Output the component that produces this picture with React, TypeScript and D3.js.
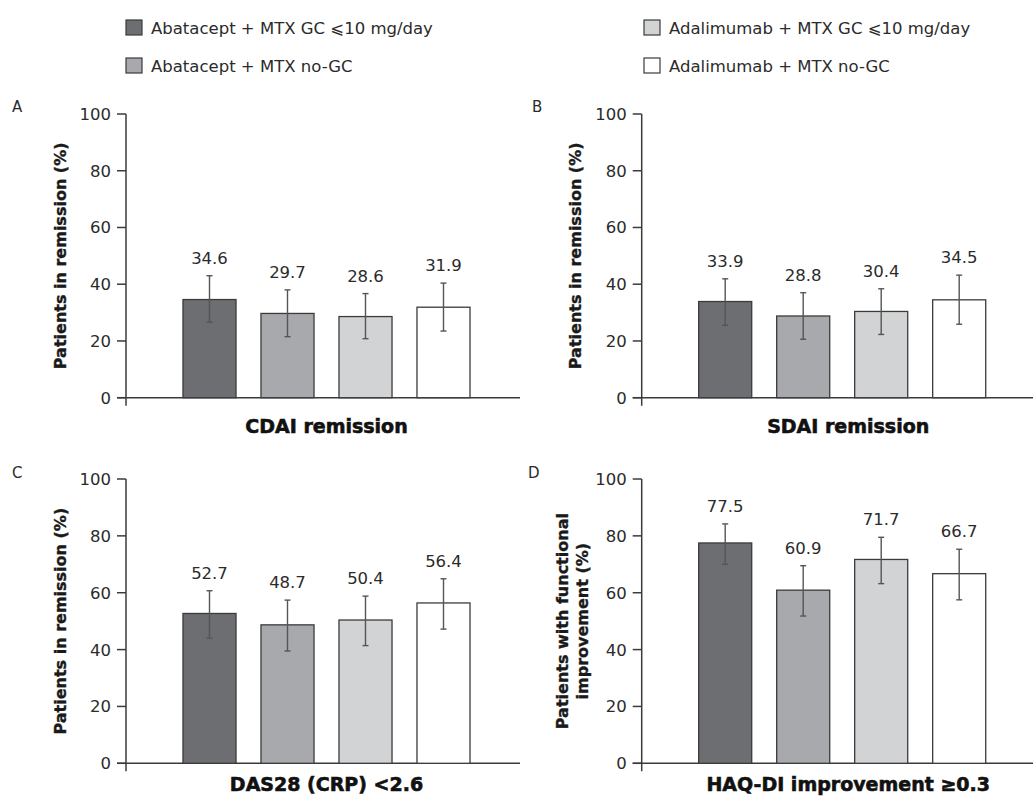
import React from "react";
import * as d3 from "d3";

const groups = [
  "Abatacept + MTX GC ⩽10 mg/day",
  "Abatacept + MTX no-GC",
  "Adalimumab + MTX GC ⩽10 mg/day",
  "Adalimumab + MTX no-GC",
];
const groupColors = ["#6d6e71", "#a7a9ac", "#d1d3d4", "#ffffff"];

const yTicks = [0, 20, 40, 60, 80, 100];

const panelTitles = ["CDAI remission", "SDAI remission", "DAS28 (CRP) <2.6", "HAQ-DI improvement ≥0.3"];
const panelLetters = ["A", "B", "C", "D"];
const panelYLabels = [
  ["Patients in remission (%)"],
  ["Patients in remission (%)"],
  ["Patients in remission (%)"],
  ["Patients with functional", "improvement (%)"],
];

const cdaiValues = [34.6, 29.7, 28.6, 31.9];
const cdaiLow = [26.6, 21.5, 20.8, 23.5];
const cdaiHigh = [43.0, 38.0, 36.7, 40.4];

const sdaiValues = [33.9, 28.8, 30.4, 34.5];
const sdaiLow = [25.5, 20.6, 22.3, 25.9];
const sdaiHigh = [41.9, 37.0, 38.4, 43.2];

const dasValues = [52.7, 48.7, 50.4, 56.4];
const dasLow = [44.0, 39.5, 41.4, 47.2];
const dasHigh = [60.7, 57.4, 58.8, 64.9];

const haqValues = [77.5, 60.9, 71.7, 66.7];
const haqLow = [70.0, 51.8, 63.2, 57.5];
const haqHigh = [84.2, 69.5, 79.5, 75.3];

const panelValues = [cdaiValues, sdaiValues, dasValues, haqValues];
const panelLow = [cdaiLow, sdaiLow, dasLow, haqLow];
const panelHigh = [cdaiHigh, sdaiHigh, dasHigh, haqHigh];

// layout
const layouts = [
  { ax: 126, top: 114, bottom: 397.7, end: 520, letterX: 12, letterY: 112, titleY: 433, titleDx: 0 },
  { ax: 641.7, top: 114, bottom: 397.7, end: 1033, letterX: 532, letterY: 112, titleY: 433, titleDx: 6 },
  { ax: 126, top: 479, bottom: 763.3, end: 520, letterX: 12, letterY: 478, titleY: 791, titleDx: 0 },
  { ax: 641.7, top: 479, bottom: 763.3, end: 1033, letterX: 528, letterY: 478, titleY: 791, titleDx: 6 },
];

const FONT = "'DejaVu Sans', sans-serif";
const BOLD = "'DejaVu Sans', sans-serif";
const AXIS = "#3b3b3b";
const TEXT = "#2b2b2b";
const FS = 16.5;

function Panel({ i }: { i: number }) {
  const L = layouts[i];
  const y = d3.scaleLinear().domain([0, 100]).range([L.bottom, L.top]);
  const x = d3
    .scaleBand<string>()
    .domain(groups)
    .range([L.ax + 44.5, L.ax + 356.5])
    .paddingInner(0.32)
    .paddingOuter(0.16);
  const vals = panelValues[i];
  const lo = panelLow[i];
  const hi = panelHigh[i];
  const barsCenter = ((x(groups[0]) as number) + (x(groups[3]) as number) + x.bandwidth()) / 2;
  const yMid = (L.top + L.bottom) / 2;
  const ylab = panelYLabels[i];
  return (
    <g>
      <text x={L.letterX} y={L.letterY} fontFamily={FONT} fontSize={15} fill={TEXT}>
        {panelLetters[i]}
      </text>
      {/* axes */}
      <line x1={L.ax} x2={L.ax} y1={L.top} y2={L.bottom + 8} stroke={AXIS} strokeWidth={1.5} />
      <line x1={L.ax - 9} x2={L.end} y1={L.bottom} y2={L.bottom} stroke={AXIS} strokeWidth={1.5} />
      {yTicks.map((t) => (
        <g key={t}>
          <line x1={L.ax - 9} x2={L.ax} y1={y(t)} y2={y(t)} stroke={AXIS} strokeWidth={1.5} />
          <text
            x={L.ax - 15}
            y={y(t)}
            dy="0.36em"
            textAnchor="end"
            fontFamily={FONT}
            fontSize={FS}
            fill={TEXT}
          >
            {t}
          </text>
        </g>
      ))}
      {/* y label */}
      {ylab.map((s, k) => {
        const cx = ylab.length === 1 ? L.ax - 66 : L.ax - 79 + k * 20;
        return (
          <text
            key={k}
            transform={`translate(${cx},${yMid}) rotate(-90)`}
            textAnchor="middle"
            dy="0.36em"
            fontFamily={BOLD}
            fontWeight="bold"
            fontSize={16}
            fill="#1a1a1a"
            stroke="#1a1a1a"
            strokeWidth={0.35}
          >
            {s}
          </text>
        );
      })}
      {/* bars */}
      {groups.map((g, k) => {
        const bx = x(g) as number;
        const cx = bx + x.bandwidth() / 2;
        return (
          <g key={g}>
            <rect
              x={bx}
              y={y(vals[k])}
              width={x.bandwidth()}
              height={y(0) - y(vals[k])}
              fill={groupColors[k]}
              stroke={AXIS}
              strokeWidth={1.3}
            />
            <line x1={cx} x2={cx} y1={y(hi[k])} y2={y(lo[k])} stroke="#555" strokeWidth={1.4} />
            <line x1={cx - 3} x2={cx + 3} y1={y(hi[k])} y2={y(hi[k])} stroke="#555" strokeWidth={1.4} />
            <line x1={cx - 3} x2={cx + 3} y1={y(lo[k])} y2={y(lo[k])} stroke="#555" strokeWidth={1.4} />
            <text
              x={cx}
              y={y(hi[k]) - 12}
              textAnchor="middle"
              fontFamily={FONT}
              fontSize={FS}
              fill={TEXT}
            >
              {vals[k].toFixed(1)}
            </text>
          </g>
        );
      })}
      <text
        x={barsCenter + L.titleDx}
        y={L.titleY}
        textAnchor="middle"
        fontFamily={BOLD}
        fontWeight="bold"
        fontSize={19}
        fill="#111"
        stroke="#111"
        strokeWidth={0.6}
      >
        {panelTitles[i]}
      </text>
    </g>
  );
}

function Legend() {
  const pos = [
    { x: 126, y: 20 },
    { x: 126, y: 58 },
    { x: 644, y: 20 },
    { x: 644, y: 58 },
  ];
  return (
    <g>
      {groups.map((g, k) => (
        <g key={g}>
          <rect
            x={pos[k].x}
            y={pos[k].y}
            width={16}
            height={15}
            fill={groupColors[k]}
            stroke={AXIS}
            strokeWidth={1.2}
          />
          <text x={pos[k].x + 25} y={pos[k].y + 14} fontFamily={FONT} fontSize={FS} fill={TEXT}>
            {g}
          </text>
        </g>
      ))}
    </g>
  );
}

export default function App() {
  return (
    <svg
      width={1033}
      height={796}
      viewBox="0 0 1033 796"
      style={{ position: "absolute", left: 0, top: 0, background: "#fff" }}
    >
      <rect width={1033} height={796} fill="#fff" />
      <Legend />
      {[0, 1, 2, 3].map((i) => (
        <Panel key={i} i={i} />
      ))}
    </svg>
  );
}
